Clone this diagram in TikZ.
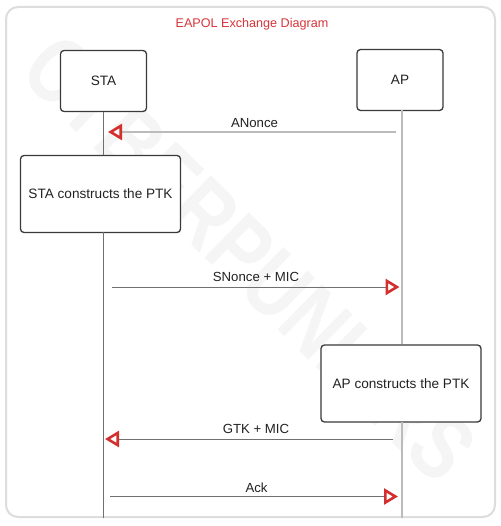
\documentclass[tikz,border=0pt]{standalone}
\usepackage{fontspec}
\setmainfont{Liberation Sans}
\usetikzlibrary{arrows.meta}
\definecolor{arrowred}{HTML}{D32F2F}
\definecolor{titlered}{HTML}{D8343A}
\definecolor{framegray}{HTML}{DDDDDD}
\definecolor{boxgray}{HTML}{3A3A3A}
\definecolor{lightline}{HTML}{BBBBBB}
\definecolor{darkline}{HTML}{707070}
\definecolor{wmgray}{HTML}{F5F5F5}
\definecolor{txt}{HTML}{222222}
\tikzset{
  actor/.style={draw=boxgray, line width=1.3pt, rounded corners=3.5pt, fill=white,
    minimum width=86pt, minimum height=61pt, inner sep=0pt, text=txt,
    font=\fontsize{13.6}{15}\selectfont},
  procbox/.style={actor, minimum width=160pt, minimum height=77pt},
  msglabel/.style={text=txt, inner sep=0pt, font=\fontsize{13.2}{15}\selectfont},
  redtip/.style={-{Triangle[open, length=14pt, width=16pt, line width=2.6pt, color=arrowred]}},
  msgdark/.style={draw=darkline, line width=1pt, redtip},
  msglight/.style={draw=lightline, line width=1.7pt, redtip},
  lifedark/.style={draw=darkline, line width=1.1pt},
  lifelight/.style={draw=lightline, line width=1.7pt},
}
\begin{document}
\begin{tikzpicture}[x=1pt, y=-1pt]
\useasboundingbox (0,0) rectangle (500,526);
\fill[white] (0,0) rectangle (500,526);
% frame
\draw[framegray, line width=2pt, rounded corners=12pt] (6,7) rectangle (495,517);
% watermark
\node[text=wmgray, rotate=-44.5, font=\bfseries\fontsize{80}{80}\selectfont, xscale=0.92, yscale=1.15, inner sep=0pt] (wm) at (250,258) {CYBERPUNK.RS};
% title
\node[text=titlered, font=\fontsize{12.6}{15}\selectfont, inner sep=0pt] (title) at (252,24) {EAPOL Exchange Diagram};
% actors
\node[actor] (sta) at (103.5,81) {STA};
\node[actor] (ap) at (400,80) {AP};
\node[procbox] (stabox) at (100.5,194) {STA constructs the PTK};
\node[procbox] (apbox) at (401,383.5) {AP constructs the PTK};
% lifeline ends
\coordinate (staend) at (103.5,518);
\coordinate (apend) at (402,518);
\coordinate (stamid) at (103.5,232);
\coordinate (aptop) at (402,110);
\coordinate (apmid) at (402,422);
\draw[lifedark] (sta.south) -- (stabox.north -| sta.south);
\draw[lifedark] (stamid) -- (staend);
\draw[lifelight] (aptop) -- (apbox.north -| aptop);
\draw[lifelight] (apmid) -- (apend);
% messages
\coordinate (m1s) at (396,132);  \coordinate (m1e) at (108,132);
\coordinate (m2s) at (112,287);  \coordinate (m2e) at (399.5,287);
\coordinate (m3s) at (393,439);  \coordinate (m3e) at (105,439);
\coordinate (m4s) at (110,496.5);\coordinate (m4e) at (398,496.5);
\draw[msglight] (m1s) -- (m1e);
\draw[msgdark] (m2s) -- (m2e);
\draw[msgdark] (m3s) -- (m3e);
\draw[msgdark] (m4s) -- (m4e);
\node[msglabel] (l1) at (254.5,123.5) {ANonce};
\node[msglabel] (l2) at (256,276.5) {SNonce + MIC};
\node[msglabel] (l3) at (256,428.5) {GTK + MIC};
\node[msglabel] (l4) at (256.5,487.5) {Ack};
\end{tikzpicture}
\end{document}
